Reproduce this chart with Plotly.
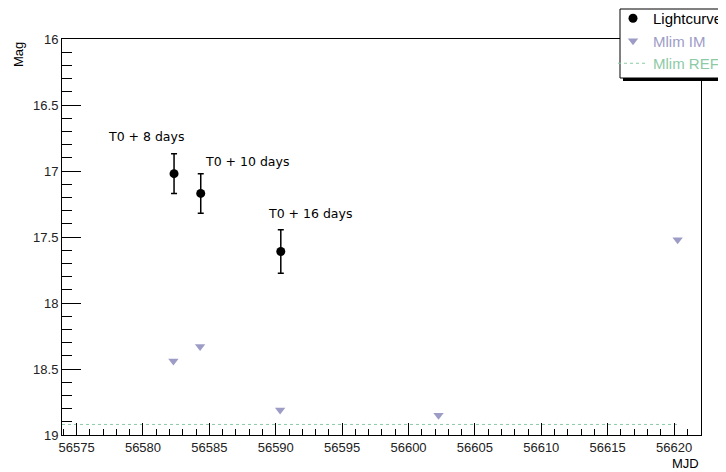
import plotly.graph_objects as go

# ---- data ----
lc_mjd = [56582.34, 56584.35, 56590.38]
lc_mag = [17.02, 17.17, 17.61]
lc_err = [0.15, 0.15, 0.165]

lim_mjd = [56582.29, 56584.30, 56590.33, 56602.26, 56620.27]
lim_mag = [18.44, 18.33, 18.81, 18.85, 17.52]

ref_mjd = [56573.9, 56620.3]
ref_mag = [18.92, 18.92]

labels = ["T0 + 8 days", "T0 + 10 days", "T0 + 16 days"]

x_ticks = [56575, 56580, 56585, 56590, 56595, 56600, 56605, 56610, 56615, 56620]
x_tick_text = [str(v) for v in x_ticks]
y_ticks = [16, 16.5, 17, 17.5, 18, 18.5, 19]
y_tick_text = ["16", "16.5", "17", "17.5", "18", "18.5", "19"]

LAV = "#9d9cc6"
GRN = "#8ccaa6"
FONT = "Liberation Sans, Arial, sans-serif"

# screen-pixel -> paper helpers (plot frame spans x 62..701, y 39..435 on screen)
def px(xs):
    return (xs - 62) / 639.0

def py(ys):
    return (435 - ys) / 396.0

fig = go.Figure()

fig.add_trace(go.Scatter(
    x=lc_mjd, y=lc_mag, mode="markers", name="Lightcurve",
    marker=dict(symbol="circle", size=9, color="black"),
    error_y=dict(type="data", array=lc_err, color="black", thickness=1.5, width=3),
))
fig.add_trace(go.Scatter(
    x=lim_mjd, y=lim_mag, mode="markers",
    name="<span style='color:%s'>Mlim IM</span>" % LAV,
    marker=dict(symbol="triangle-down", size=9, color=LAV),
))
fig.add_trace(go.Scatter(
    x=ref_mjd, y=ref_mag, mode="lines",
    name="<span style='color:%s'>Mlim REF</span>" % GRN,
    line=dict(color=GRN, width=1, dash="3px,3px"),
))

label_pos = [(56577.37, 16.74), (56584.68, 16.93), (56589.42, 17.32)]
for txt, (lx, ly) in zip(labels, label_pos):
    fig.add_annotation(x=lx, y=ly, text=txt, showarrow=False, xanchor="left",
                       yanchor="middle", xshift=-2,
                       font=dict(family="DejaVu Sans", size=12.5, color="black"))

fig.add_annotation(xref="paper", yref="paper", x=px(18), y=py(55),
                   text="Mag", textangle=-90, showarrow=False, xanchor="center", yanchor="middle",
                   font=dict(family=FONT, size=13, color="black"))
fig.add_annotation(xref="paper", yref="paper", x=px(701), y=py(463),
                   text="MJD", showarrow=False, xanchor="right", yanchor="middle",
                   font=dict(family=FONT, size=13, color="black"))

# legend box with shadow (ROOT style)
fig.add_shape(type="rect", xref="paper", yref="paper", x0=px(623), x1=px(760), y0=py(81), y1=py(12),
              fillcolor="black", line=dict(width=0), layer="above")
fig.add_shape(type="rect", xref="paper", yref="paper", x0=px(620), x1=px(758), y0=py(78), y1=py(9),
              fillcolor="white", line=dict(color="black", width=1), layer="above")

fig.update_xaxes(
    range=[56573.9, 56622.03], tickvals=x_ticks, ticktext=x_tick_text,
    ticks="inside", ticklen=12, tickcolor="black", tickwidth=1,
    minor=dict(dtick=1, tick0=56575, ticks="inside", ticklen=6, tickcolor="black"),
    showline=True, linecolor="black", linewidth=1, mirror=True,
    showgrid=False, zeroline=False,
    tickfont=dict(family=FONT, size=13, color="#222"),
)
fig.update_yaxes(
    range=[19, 16], tickvals=y_ticks, ticktext=y_tick_text,
    ticks="inside", ticklen=19, tickcolor="black", tickwidth=1,
    minor=dict(dtick=0.1, tick0=16, ticks="inside", ticklen=10, tickcolor="black"),
    showline=True, linecolor="black", linewidth=1, mirror=True,
    showgrid=False, zeroline=False,
    tickfont=dict(family=FONT, size=13, color="#222"),
)

# page body has an 8px margin, so the figure is laid out 8px smaller / shifted
fig.update_layout(
    width=718, height=464,
    margin=dict(l=54, r=25, t=31, b=37, autoexpand=False),
    plot_bgcolor="white", paper_bgcolor="white",
    showlegend=True,
    legend=dict(x=px(613), y=py(2), xanchor="left", yanchor="top",
                bgcolor="rgba(0,0,0,0)", borderwidth=0,
                font=dict(family=FONT, size=15, color="black"),
                tracegroupgap=0),
)

fig.write_html("out.html")
